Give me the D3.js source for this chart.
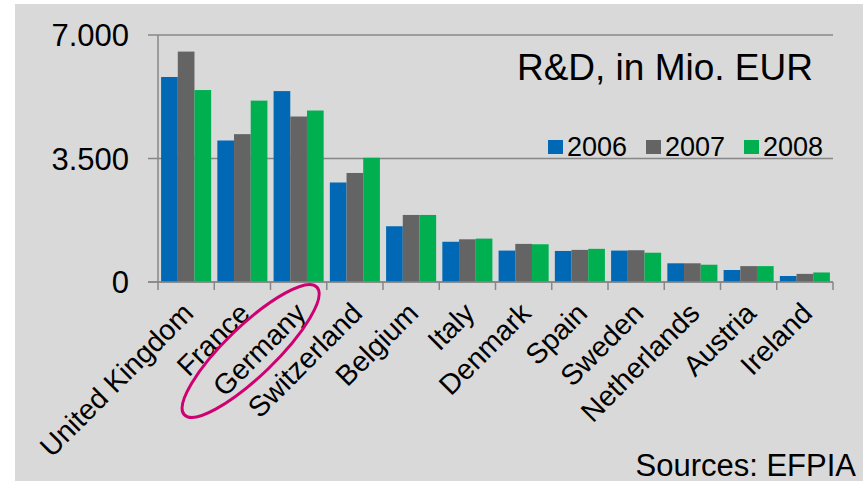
<!DOCTYPE html>
<html>
<head>
<meta charset="utf-8">
<script src="https://cdn.jsdelivr.net/npm/d3@7"></script>
<style>
  html, body { margin: 0; padding: 0; background: #ffffff; }
  svg { display: block; font-family: "Liberation Sans", Arial, sans-serif; }
</style>
</head>
<body>
<svg id="chart" width="867" height="482"></svg>
<script>
const categories = ["United Kingdom", "France", "Germany", "Switzerland", "Belgium", "Italy",
  "Denmark", "Spain", "Sweden", "Netherlands", "Austria", "Ireland"];
const seriesNames = ["2006", "2007", "2008"];
const values2006 = [5810, 4010, 5410, 2820, 1580, 1140, 890, 880, 890, 530, 340, 170];
const values2007 = [6530, 4190, 4690, 3090, 1900, 1210, 1080, 910, 900, 530, 450, 230];
const values2008 = [5440, 5140, 4860, 3520, 1900, 1230, 1070, 940, 830, 490, 450, 270];
const seriesColors = ["#0068b4", "#646464", "#00b050"];
const yTicks = [0, 3500, 7000];
const yTickLabels = ["0", "3.500", "7.000"];
const titleText = "R&D, in Mio. EUR";
const sourceText = "Sources: EFPIA";
const highlighted = "Germany";

const seriesValues = [values2006, values2007, values2008];
const svg = d3.select("#chart");

// background panel
svg.append("rect").attr("x", 15).attr("y", 4).attr("width", 848).attr("height", 477).attr("fill", "#d9d9d9");

const plotLeft = 158, plotRight = 833, plotTop = 35, plotBottom = 282;

const x0 = d3.scaleBand().domain(categories).range([plotLeft, plotRight]).paddingInner(0.11).paddingOuter(0.055);
const x1 = d3.scaleBand().domain(seriesNames).range([0, x0.bandwidth()]).padding(0);
const y = d3.scaleLinear().domain([0, 7000]).range([plotBottom, plotTop]);

// gridlines (horizontal)
svg.append("g").selectAll("line").data(yTicks).join("line")
  .attr("x1", 148).attr("x2", plotRight)
  .attr("y1", d => y(d)).attr("y2", d => y(d))
  .attr("stroke", "#878787").attr("stroke-width", 1.5);

// y-axis line
svg.append("line").attr("x1", plotLeft).attr("x2", plotLeft).attr("y1", plotTop).attr("y2", plotBottom)
  .attr("stroke", "#878787").attr("stroke-width", 1.5);

// y tick labels
svg.append("g").selectAll("text").data(yTicks).join("text")
  .attr("x", 129).attr("y", d => y(d)).attr("dy", "0.36em")
  .attr("text-anchor", "end").attr("font-size", 31).attr("fill", "#000")
  .text((d, i) => yTickLabels[i]);

// bars
const groups = svg.append("g").selectAll("g").data(categories).join("g")
  .attr("transform", d => `translate(${x0(d)},0)`);
groups.selectAll("rect").data((c, ci) => seriesNames.map((s, si) => ({s, si, v: seriesValues[si][ci]})))
  .join("rect")
  .attr("x", d => x1(d.s)).attr("width", x1.bandwidth())
  .attr("y", d => y(d.v)).attr("height", d => y(0) - y(d.v))
  .attr("fill", d => seriesColors[d.si]);

// x axis line & ticks at category boundaries
svg.append("line").attr("x1", 148).attr("x2", plotRight).attr("y1", plotBottom).attr("y2", plotBottom)
  .attr("stroke", "#878787").attr("stroke-width", 1.5);
const step = x0.step();
const boundaries = d3.range(categories.length + 1).map(i => plotLeft + i * step);
svg.append("g").selectAll("line").data(boundaries).join("line")
  .attr("x1", d => d).attr("x2", d => d).attr("y1", plotBottom).attr("y2", plotBottom + 8)
  .attr("stroke", "#878787").attr("stroke-width", 1.5);

// category labels
svg.append("g").selectAll("text").data(categories).join("text")
  .attr("transform", d => `translate(${x0(d) + x0.bandwidth() / 2 + 9},315) rotate(-45)`)
  .attr("text-anchor", "end").attr("font-size", 28.5).attr("fill", "#000")
  .text(d => d);

// highlight ellipse
const hx = x0(highlighted) + x0.bandwidth() / 2;
svg.append("ellipse")
  .attr("transform", `translate(${hx - 48},351) rotate(-44)`)
  .attr("rx", 92).attr("ry", 25)
  .attr("fill", "none").attr("stroke", "#cf0070").attr("stroke-width", 3);

// title
svg.append("text").attr("x", 813).attr("y", 80).attr("text-anchor", "end")
  .attr("font-size", 37).attr("fill", "#000").text(titleText);

// legend
const legendX = [548, 646, 744];
const leg = svg.append("g").selectAll("g").data(seriesNames).join("g")
  .attr("transform", (d, i) => `translate(${legendX[i]},0)`);
leg.append("rect").attr("x", 0).attr("y", 140).attr("width", 15).attr("height", 14)
  .attr("fill", (d, i) => seriesColors[i]);
leg.append("text").attr("x", 19).attr("y", 156).attr("font-size", 27).attr("fill", "#000").text(d => d);

// source
svg.append("text").attr("x", 856).attr("y", 476).attr("text-anchor", "end")
  .attr("font-size", 31).attr("fill", "#000").text(sourceText);
</script>
</body>
</html>
